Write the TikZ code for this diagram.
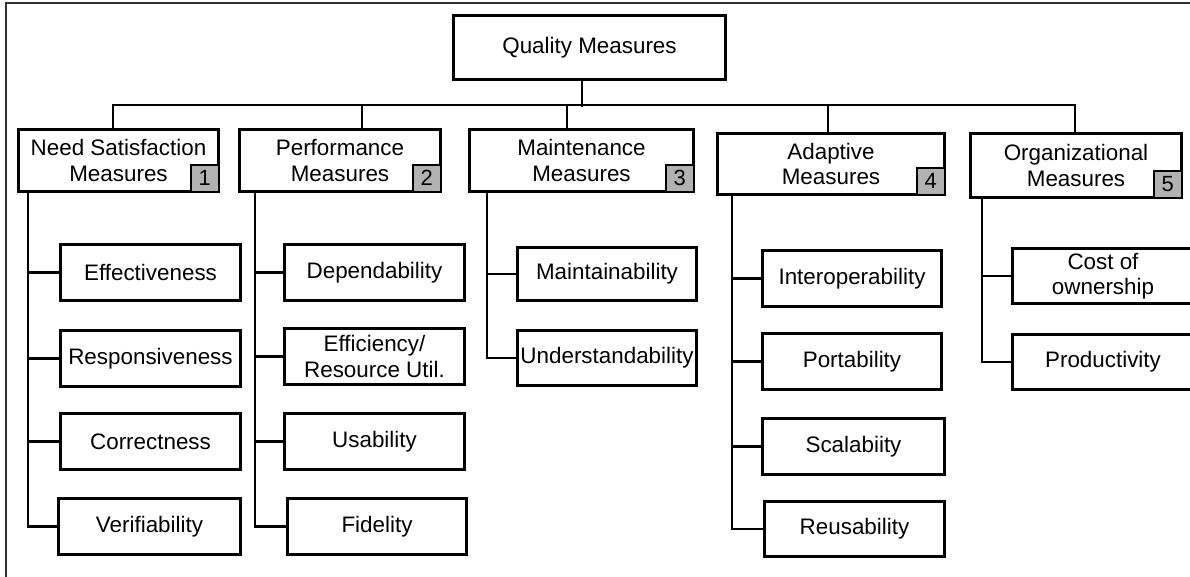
\documentclass[tikz,border=0pt]{standalone}
\usepackage{fontspec}
\setmainfont{Liberation Sans}
\definecolor{numgray}{HTML}{B2B2B2}
\definecolor{framegray}{HTML}{303030}
\begin{document}
\begin{tikzpicture}[x=1pt,y=-1pt,
  box/.style={draw, line width=2.6pt, inner sep=0pt, outer sep=0pt, align=center,
    font=\fontsize{22.4}{25.5}\selectfont},
  numbox/.style={draw, fill=numgray, line width=2.4pt, inner sep=0pt, outer sep=0pt,
    minimum width=28pt, minimum height=27pt, anchor=south east,
    font=\fontsize{22}{24}\selectfont},
  conn/.style={line width=2.8pt},
  framestyle/.style={line width=1.3pt, draw=framegray}]
\useasboundingbox (0,0) rectangle (1190,577);
\clip (0,0) rectangle (1190,577);
% frame
\draw[framestyle] (6,580) -- (6,3) -- (1195,3);

% root
\node[box, minimum width=272pt, minimum height=64.5pt] (root) at (589.5,47.5) {Quality Measures};

% level 2
\node[box, minimum width=200.5pt, minimum height=62.5pt] (b1) at (118.5,160.5) {Need Satisfaction\\Measures};
\node[box, minimum width=201.5pt, minimum height=62.5pt] (b2) at (340,160.5) {Performance\\Measures};
\node[box, minimum width=224.5pt, minimum height=62.5pt] (b3) at (581.5,160.5) {Maintenance\\Measures};
\node[box, minimum width=227.5pt, minimum height=61.5pt] (b4) at (831,164) {Adaptive\\Measures};
\node[box, minimum width=211.5pt, minimum height=64.5pt] (b5) at (1076,165.5) {Organizational\\Measures};

\node[numbox] (n1) at (b1.south east) {1};
\node[numbox] (n2) at (b2.south east) {2};
\node[numbox] (n3) at (b3.south east) {3};
\node[numbox] (n4) at (b4.south east) {4};
\node[numbox] (n5) at (b5.south east) {5};

% column 1
\node[box, minimum width=180.5pt, minimum height=56.5pt] (eff) at (150.5,272.5) {Effectiveness};
\node[box, minimum width=180.5pt, minimum height=56.5pt] (resp) at (150.5,358.5) {Responsiveness};
\node[box, minimum width=180.5pt, minimum height=56.5pt] (corr) at (150.5,441.5) {Correctness};
\node[box, minimum width=182.5pt, minimum height=56.5pt] (verif) at (149.5,526.5) {Verifiability};

% column 2
\node[box, minimum width=180.5pt, minimum height=56.5pt] (dep) at (374.5,272.5) {Dependability};
\node[box, minimum width=180.5pt, minimum height=56.5pt] (effi) at (374.5,356.5) {Efficiency/\\Resource Util.};
\node[box, minimum width=180.5pt, minimum height=56.5pt] (usab) at (374.5,441.5) {Usability};
\node[box, minimum width=179.5pt, minimum height=56.5pt] (fid) at (377,526.5) {Fidelity};

% column 3
\node[box, minimum width=179.5pt, minimum height=53.5pt] (maint) at (607,274) {Maintainability};
\node[box, minimum width=179.5pt, minimum height=55.5pt] (under) at (607,358) {Understandability};

% column 4
\node[box, minimum width=179.5pt, minimum height=56.5pt] (inter) at (852,278.5) {Interoperability};
\node[box, minimum width=179.5pt, minimum height=56.5pt] (port) at (852,361.5) {Portability};
\node[box, minimum width=182.5pt, minimum height=56.5pt] (scal) at (853.5,446.5) {Scalabiity};
\node[box, minimum width=180.5pt, minimum height=55.5pt] (reus) at (854.5,529) {Reusability};

% column 5
\node[box, minimum width=181.5pt, minimum height=55.5pt] (cost) at (1103,276) {Cost of\\ownership};
\node[box, minimum width=181.5pt, minimum height=55.5pt] (prod) at (1103,362) {Productivity};

% bus
\coordinate (busL) at (113,105);
\coordinate (busR) at (1075,105);
\coordinate (rj) at (582,107);
\coordinate (d2) at (362,105);
\coordinate (d3) at (567,105);
\coordinate (d4) at (828,105);
\draw[conn] (rj |- root.south) -- (rj);
\draw[conn] (busL |- b1.north) -- (busL) -- (busR) -- (busR |- b5.north);
\draw[conn] (d2) -- (d2 |- b2.north);
\draw[conn] (d3) -- (d3 |- b3.north);
\draw[conn] (d4) -- (d4 |- b4.north);

% column connectors
\coordinate (k1) at (28,0);
\coordinate (k2) at (255,0);
\coordinate (k3) at (487,0);
\coordinate (k4) at (732,0);
\coordinate (k5) at (982,0);
\foreach \c in {eff,resp,corr,verif} \draw[conn] (k1 |- b1.south) |- (\c.west);
\foreach \c in {dep,effi,usab,fid} \draw[conn] (k2 |- b2.south) |- (\c.west);
\foreach \c in {maint,under} \draw[conn] (k3 |- b3.south) |- (\c.west);
\foreach \c in {inter,port,scal,reus} \draw[conn] (k4 |- b4.south) |- (\c.west);
\foreach \c in {cost,prod} \draw[conn] (k5 |- b5.south) |- (\c.west);
\end{tikzpicture}
\end{document}
